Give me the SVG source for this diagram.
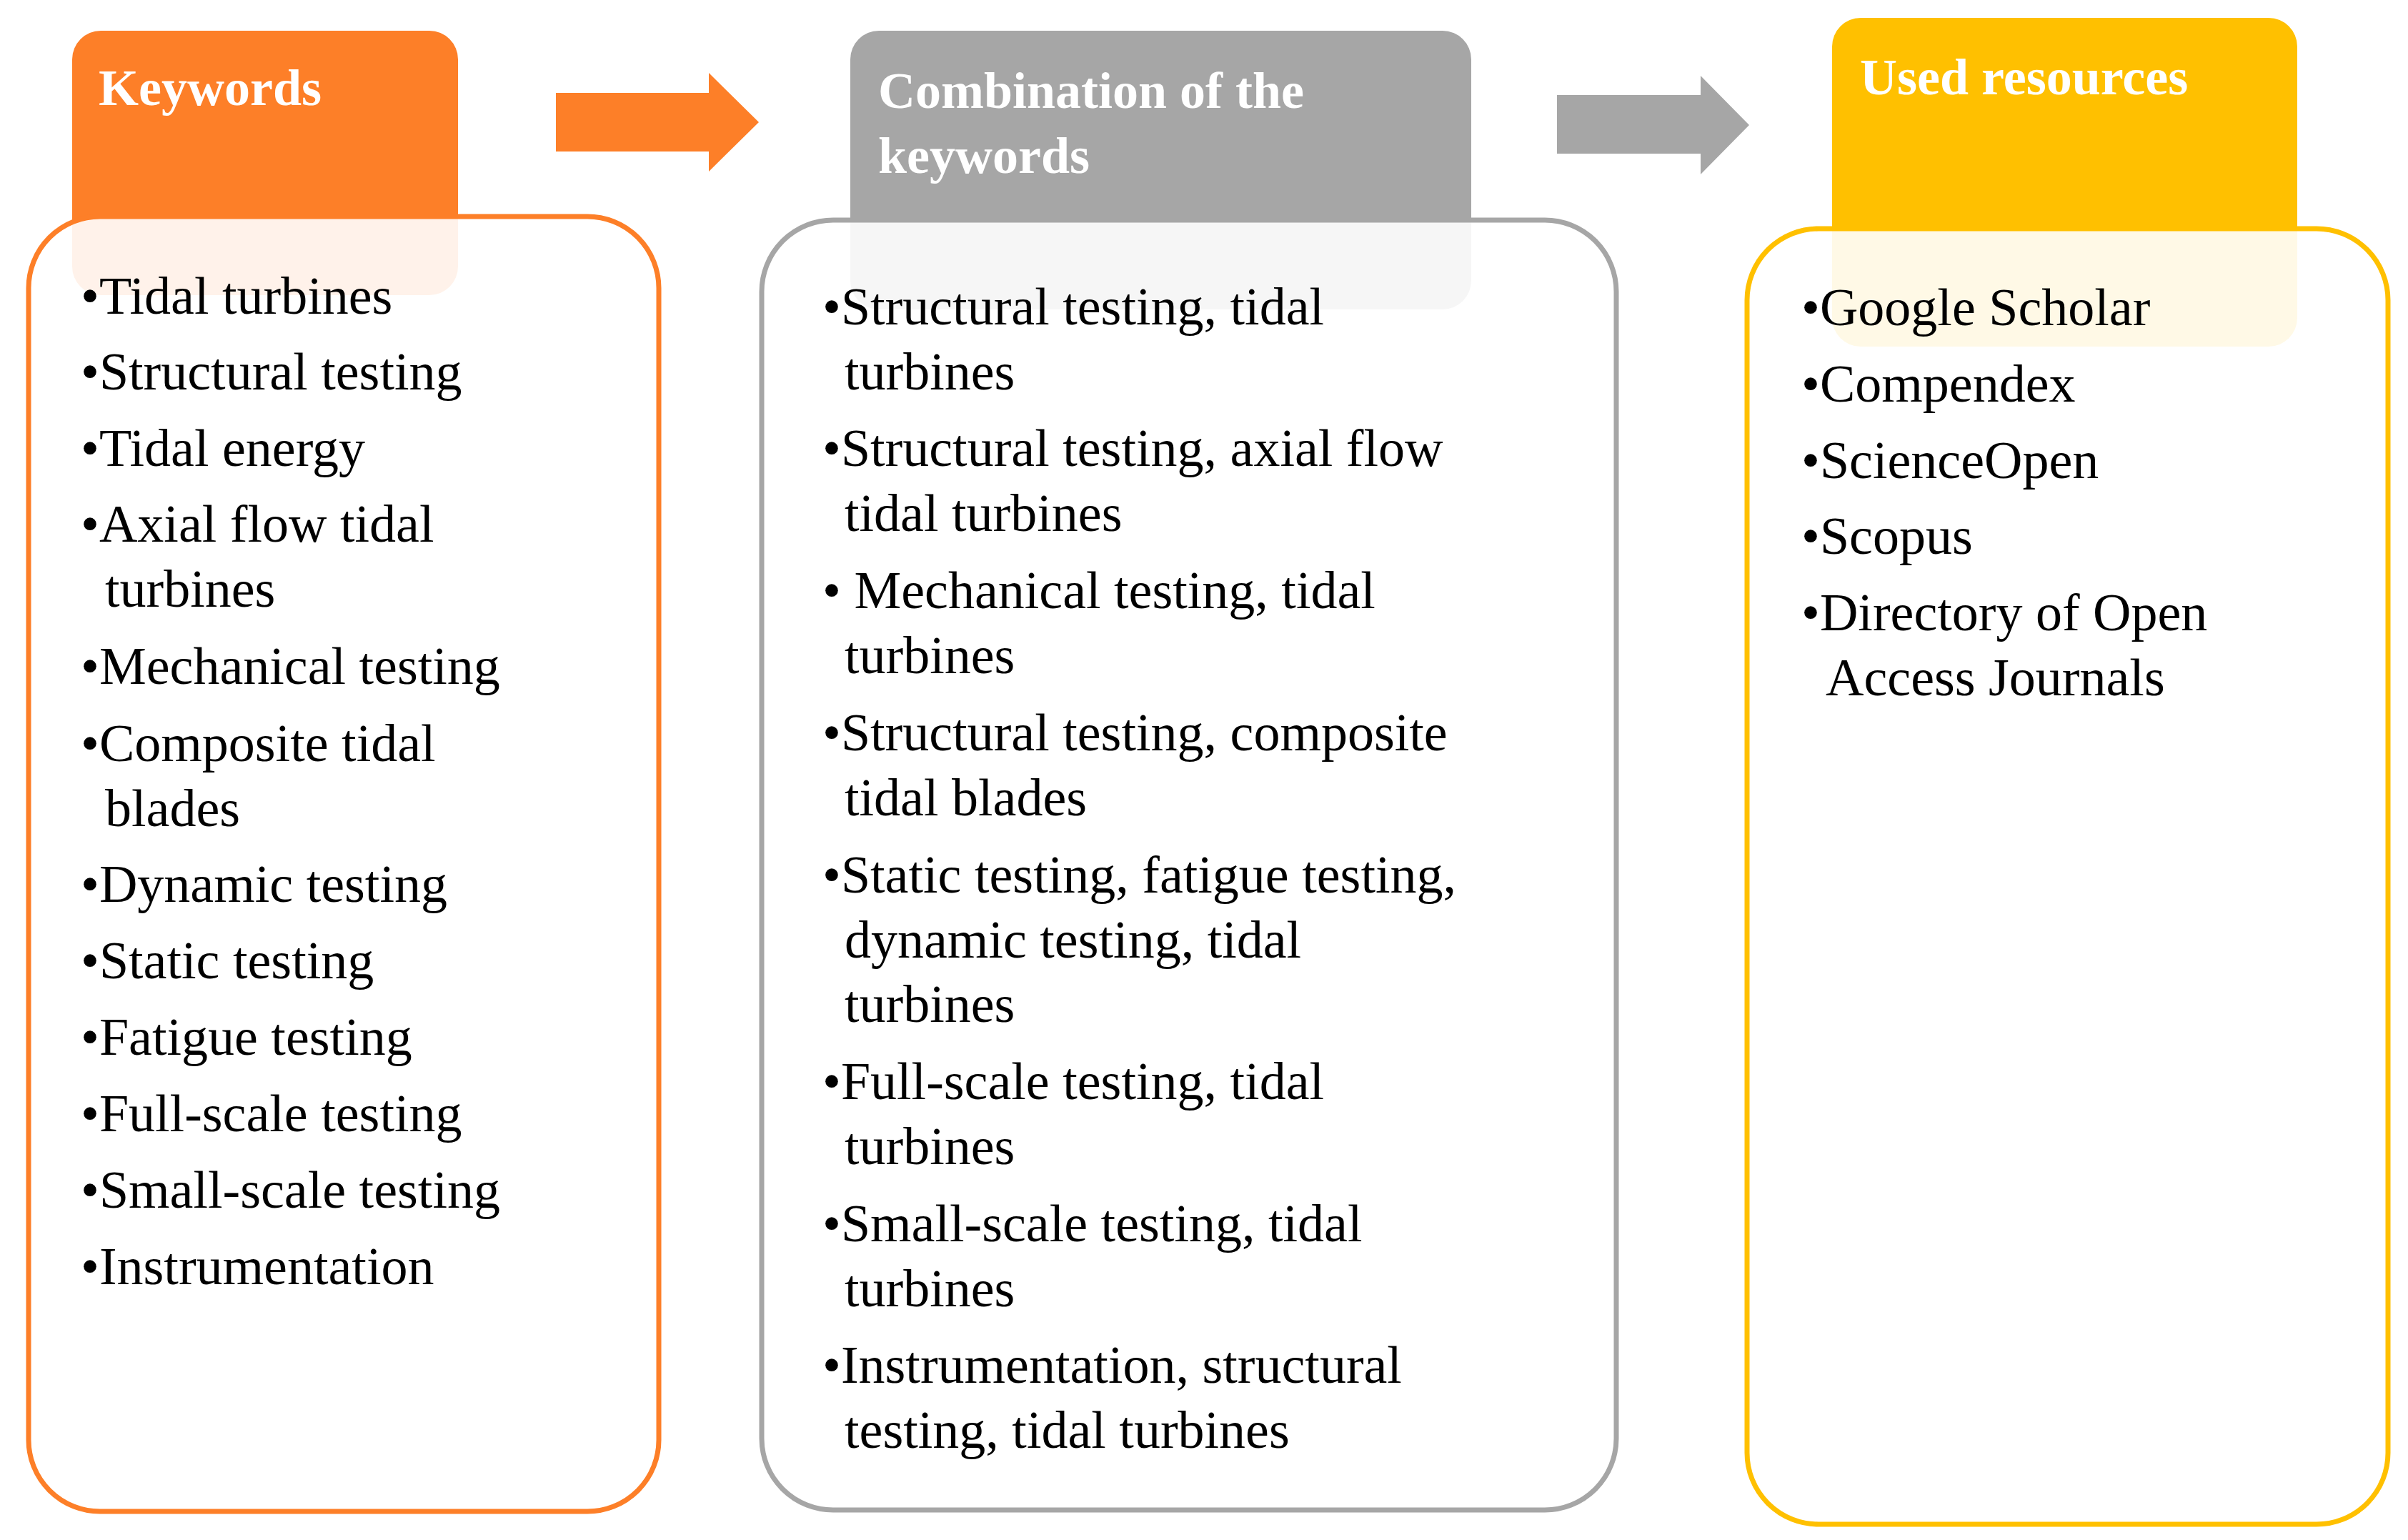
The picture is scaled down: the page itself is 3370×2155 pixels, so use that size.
<svg xmlns="http://www.w3.org/2000/svg" width="3370" height="2155" viewBox="0 0 3370 2155">
<style>
text{font-family:"Liberation Serif","DejaVu Serif",serif;font-size:74px;fill:#000}
.h{fill:#fff;font-weight:bold;font-size:72px}
.box{stroke-width:7;fill:#fff;fill-opacity:0.9}
</style>
<rect width="3370" height="2155" fill="#fff"/>
<g id="connectors">
<polygon points="778,130 992,130 992,102 1062,171 992,240 992,212 778,212" fill="#FD7F28"/>
<polygon points="2179,133 2380,133 2380,106 2448,175 2380,244 2380,215 2179,215" fill="#A6A6A6"/>
</g>
<g id="keywords">
<rect x="101" y="43" width="540" height="370" rx="40" fill="#FD7F28"/>
<rect x="40" y="303" width="882" height="1812" rx="100" class="box" stroke="#FD7F28"/>
<text class="h" x="138" y="147">Keywords</text>
<text x="113" y="439">•Tidal turbines</text>
<text x="113" y="545">•Structural testing</text>
<text x="113" y="652">•Tidal energy</text>
<text x="113" y="758">•Axial flow tidal</text>
<text x="147" y="849">turbines</text>
<text x="113" y="957">•Mechanical testing</text>
<text x="113" y="1065">•Composite tidal</text>
<text x="147" y="1156">blades</text>
<text x="113" y="1262">•Dynamic testing</text>
<text x="113" y="1369">•Static testing</text>
<text x="113" y="1476">•Fatigue testing</text>
<text x="113" y="1583">•Full-scale testing</text>
<text x="113" y="1690">•Small-scale testing</text>
<text x="113" y="1797">•Instrumentation</text>
</g>
<g id="combination">
<rect x="1190" y="43" width="869" height="390" rx="40" fill="#A6A6A6"/>
<rect x="1066" y="308" width="1196" height="1805" rx="100" class="box" stroke="#A6A6A6"/>
<text class="h" x="1229" y="151">Combination of the</text>
<text class="h" x="1229" y="242">keywords</text>
<text x="1151" y="454">•Structural testing, tidal</text>
<text x="1182" y="545">turbines</text>
<text x="1151" y="652">•Structural testing, axial flow</text>
<text x="1182" y="743">tidal turbines</text>
<text x="1151" y="851">• Mechanical testing, tidal</text>
<text x="1182" y="942">turbines</text>
<text x="1151" y="1050">•Structural testing, composite</text>
<text x="1182" y="1141">tidal blades</text>
<text x="1151" y="1249">•Static testing, fatigue testing,</text>
<text x="1182" y="1340">dynamic testing, tidal</text>
<text x="1182" y="1430">turbines</text>
<text x="1151" y="1538">•Full-scale testing, tidal</text>
<text x="1182" y="1629">turbines</text>
<text x="1151" y="1737">•Small-scale testing, tidal</text>
<text x="1182" y="1828">turbines</text>
<text x="1151" y="1935">•Instrumentation, structural</text>
<text x="1182" y="2026">testing, tidal turbines</text>
</g>
<g id="resources">
<rect x="2564" y="25" width="651" height="460" rx="40" fill="#FFC000"/>
<rect x="2445" y="320" width="2897" height="1813" rx="100" class="box" stroke="#FFC000" style="width:897px"/>
<text class="h" x="2603" y="132">Used resources</text>
<text x="2521" y="455">•Google Scholar</text>
<text x="2521" y="562">•Compendex</text>
<text x="2521" y="669">•ScienceOpen</text>
<text x="2521" y="775">•Scopus</text>
<text x="2521" y="882">•Directory of Open</text>
<text x="2555" y="973">Access Journals</text>
</g>
</svg>
